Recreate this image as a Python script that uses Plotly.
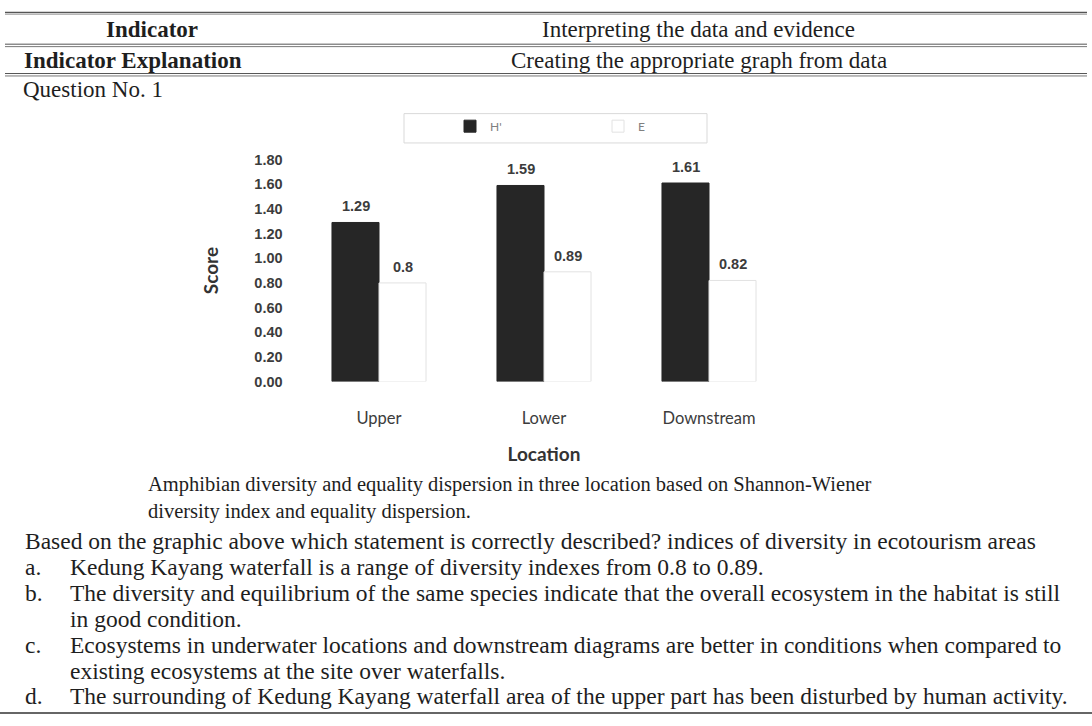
import plotly.graph_objects as go

W, H = 1092, 726

# ---- data ----
locations = ["Upper", "Lower", "Downstream"]
h_index = [1.29, 1.59, 1.61]
e_index = [0.8, 0.89, 0.82]
series_names = ["H'", "E"]
y_ticks = [0.0, 0.2, 0.4, 0.6, 0.8, 1.0, 1.2, 1.4, 1.6, 1.8]

# ---- document text ----
header_left = ["Indicator", "Indicator Explanation"]
header_right = ["Interpreting the data and evidence",
                "Creating the appropriate graph from data"]
question_label = "Question No. 1"
caption_lines = ["Amphibian diversity and equality dispersion in three location based on Shannon-Wiener",
                 "diversity index and equality dispersion."]
stem = ("Based on the graphic above which statement is correctly described? "
        "indices of diversity in ecotourism areas")
option_letters = ["a.", "b.", "c.", "d."]
option_lines = [
    ["Kedung Kayang waterfall is a range of diversity indexes from 0.8 to 0.89."],
    ["The diversity and equilibrium of the same species indicate that the overall ecosystem in the habitat is still",
     "in good condition."],
    ["Ecosystems in underwater locations and downstream diagrams are better in conditions when compared to",
     "existing ecosystems at the site over waterfalls."],
    ["The surrounding of Kedung Kayang waterfall area of the upper part has been disturbed by human activity."],
]


def px(x):
    return x / W


def py(y):
    return 1 - y / H


SERIF = "Liberation Serif"
TXT = "#1e1e1e"
CH_NUM = "Liberation Sans"
CH_TXT = "Lato"
CH_GREY = "#3c3c3c"
BAR_HALF = 23.5  # half bar width in px, for label placement

fig = go.Figure()
fig.add_trace(go.Bar(
    name=series_names[0], x=locations, y=h_index,
    marker=dict(color="#262626", line=dict(color="#262626", width=1)),
))
fig.add_trace(go.Bar(
    name=series_names[1], x=locations, y=e_index,
    marker=dict(color="white", line=dict(color="#e2e2e2", width=1)),
))

annotations = []
shapes = []

# value labels above bars
for series, shift in ((h_index, -BAR_HALF), (e_index, BAR_HALF)):
    for loc, val in zip(locations, series):
        annotations.append(dict(
            xref="x", yref="y", x=loc, y=val, text=f"{val:g}", showarrow=False,
            xanchor="center", yanchor="bottom", xshift=shift, yshift=6,
            font=dict(family=CH_NUM, size=14.5, color=CH_GREY, weight="bold"),
        ))


def text(x, y, s, size=23.5, bold=False, anchor="left", family=SERIF, color=TXT, align="left"):
    annotations.append(dict(
        xref="paper", yref="paper", x=px(x), y=py(y), text=s, showarrow=False,
        xanchor=anchor, yanchor="middle", align=align,
        font=dict(family=family, size=size, color=color, weight="bold" if bold else "normal"),
    ))


def hline(y, x0=5, x1=1087, color="#4a4a4a", width=1):
    shapes.append(dict(type="line", xref="paper", yref="paper",
                       x0=px(x0), x1=px(x1), y0=py(y), y1=py(y),
                       line=dict(color=color, width=width)))


# table rules
hline(4.5, color="#555555", width=1.5)
hline(6.5, color="#aaaaaa", width=1)
hline(37, color="#555555")
hline(39.5, color="#777777")
hline(67, color="#555555")
hline(69.5, color="#777777")
hline(721, x0=0, x1=1092, color="#333333", width=1.5)

# header texts
text(152, 22, header_left[0], size=23, bold=True, anchor="center")
text(699, 22, header_right[0], size=23, anchor="center")
text(22, 54, header_left[1], size=23, bold=True)
text(699, 54, header_right[1], size=23, anchor="center")
text(21, 83, question_label, size=23)

# caption (two lines in one block)
text(146, 501, "<br>".join(caption_lines), size=20.5)

# question stem and options
text(23, 545, stem)
row_y = [571.5, 598, 624.5, 651, 677.5, 704]
r = 0
for letter, lines in zip(option_letters, option_lines):
    text(23, row_y[r], letter)
    for ln in lines:
        text(68, row_y[r], ln)
        r += 1

# legend frame
shapes.append(dict(type="rect", xref="paper", yref="paper",
                   x0=px(404), x1=px(707), y0=py(108), y1=py(138),
                   line=dict(color="#d9d9d9", width=1), fillcolor="rgba(0,0,0,0)"))

fig.update_layout(
    width=W, height=H,
    margin=dict(l=0, r=0, t=0, b=0),
    paper_bgcolor="white", plot_bgcolor="white",
    barmode="group", bargap=0.43, bargroupgap=0,
    showlegend=True,
    legend=dict(orientation="h", x=px(450), y=py(106), xanchor="left", yanchor="top",
                bgcolor="rgba(0,0,0,0)", borderwidth=0, entrywidth=103,
                font=dict(family=CH_TXT, size=12, color="#808080")),
    xaxis=dict(domain=[px(296.5), px(791.5)], range=[-0.5, 2.5],
               showgrid=False, zeroline=False, showline=False,
               ticks="outside", ticklen=22, tickcolor="rgba(0,0,0,0)",
               tickfont=dict(family=CH_TXT, size=16.5, color=CH_GREY),
               title=dict(text="Location", standoff=20,
                          font=dict(family=CH_TXT, size=19, color="#333333", weight="bold"))),
    yaxis=dict(domain=[py(382), py(155)], range=[0, 1.8],
               tickvals=y_ticks, tickformat=".2f",
               showgrid=False, zeroline=False, showline=False,
               ticks="outside", ticklen=10, tickcolor="rgba(0,0,0,0)",
               tickfont=dict(family=CH_NUM, size=14.5, color=CH_GREY, weight="bold"),
               title=dict(text="Score", standoff=30,
                          font=dict(family=CH_TXT, size=19, color="#333333", weight="bold"))),
    annotations=annotations,
    shapes=shapes,
)

fig.write_html("out.html",
               config={"displayModeBar": False},
               post_script="document.body.style.margin='0';document.body.style.overflow='hidden';")
